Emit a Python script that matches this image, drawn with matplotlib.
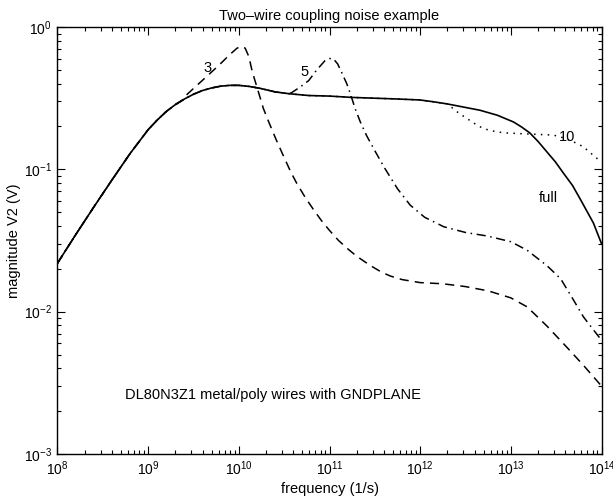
import numpy as np
import matplotlib
matplotlib.use("Agg")
import matplotlib.pyplot as plt

matplotlib.rcParams['font.family'] = ['Liberation Sans', 'DejaVu Sans']

# full model (solid), log10 of frequency and magnitude in V
full_logf = [8.0, 8.2, 8.4, 8.6, 8.8, 9.0, 9.1, 9.2, 9.3, 9.4, 9.5, 9.6,
             9.7, 9.8, 9.9, 10.0, 10.12, 10.24, 10.4, 10.55, 10.77, 11.0,
             11.25, 11.5, 11.75, 12.0, 12.15, 12.3, 12.45, 12.66, 12.85, 13.03,
             13.12, 13.21, 13.3, 13.4, 13.49, 13.58, 13.68, 13.77, 13.91, 14.0]
full_v = [0.0219, 0.0347, 0.0543, 0.0841, 0.129, 0.19, 0.222, 0.255, 0.285,
          0.312, 0.337, 0.358, 0.373, 0.384, 0.389, 0.389, 0.382, 0.37, 0.35,
          0.34, 0.33, 0.327, 0.32, 0.316, 0.312, 0.307, 0.298, 0.288, 0.276,
          0.26, 0.24, 0.215, 0.198, 0.18, 0.157, 0.132, 0.113, 0.094, 0.077,
          0.061, 0.042, 0.030]

# 3 sections (dashed), branches off the full curve
s3_logf = [9.42, 9.52, 9.63, 9.74, 9.82, 9.9, 9.98, 10.03, 10.07, 10.11,
           10.15, 10.21, 10.27, 10.33, 10.4, 10.48, 10.57, 10.64, 10.73,
           10.82, 10.91, 11.0, 11.1, 11.19, 11.3, 11.45, 11.57, 11.67, 11.8,
           12.0, 12.25, 12.5, 12.75, 13.0, 13.18, 13.4, 13.62, 13.8, 14.0]
s3_v = [0.332, 0.38, 0.44, 0.51, 0.57, 0.64, 0.71, 0.73, 0.71, 0.62, 0.48,
        0.36, 0.268, 0.215, 0.168, 0.129, 0.0966, 0.0794, 0.0638, 0.0525,
        0.0437, 0.0372, 0.0316, 0.028, 0.0245, 0.0211, 0.019, 0.0178, 0.0168,
        0.016, 0.0157, 0.015, 0.014, 0.0125, 0.0108, 0.0079, 0.0056, 0.0042,
        0.0030]

# 5 sections (dash-dot)
s5_logf = [10.58, 10.68, 10.77, 10.86, 10.95, 11.0, 11.04, 11.09, 11.14,
           11.19, 11.23, 11.28, 11.34, 11.41, 11.5, 11.6, 11.75, 11.89, 12.05,
           12.26, 12.5, 12.74, 13.0, 13.18, 13.4, 13.55, 13.7, 13.8, 13.9,
           14.0]
s5_v = [0.345, 0.38, 0.42, 0.50, 0.58, 0.60, 0.60, 0.55, 0.47, 0.40, 0.34,
        0.27, 0.215, 0.172, 0.135, 0.104, 0.073, 0.056, 0.046, 0.0395, 0.036,
        0.034, 0.031, 0.027, 0.021, 0.017, 0.0118, 0.0092, 0.0076, 0.0063]

# 10 sections (dotted)
s10_logf = [12.42, 12.55, 12.65, 12.74, 12.85, 12.96, 13.2, 13.47, 13.6,
            13.7, 13.8, 13.9, 14.0]
s10_v = [0.25, 0.22, 0.20, 0.19, 0.183, 0.18, 0.177, 0.174, 0.165, 0.155,
         0.144, 0.127, 0.112]


def branch(logf, v):
    fl = np.array(full_logf)
    keep = fl < logf[0]
    f = np.r_[fl[keep], logf]
    return 10.0 ** f, np.r_[np.array(full_v)[keep], v]


fig = plt.figure(figsize=(6.13, 4.99), dpi=100)
ax = fig.add_axes([0.0938, 0.0902, 0.8875, 0.8557])

ax.loglog(10.0 ** np.array(full_logf), full_v, color="black", lw=1.2)
f3, v3 = branch(s3_logf, s3_v)
ax.loglog(f3, v3, color="black", lw=1.1, dashes=(6, 4))
f5, v5 = branch(s5_logf, s5_v)
ax.loglog(f5, v5, color="black", lw=1.1, dashes=(6, 3, 1, 3))
f10, v10 = branch(s10_logf, s10_v)
ax.loglog(f10, v10, color="black", lw=1.1, dashes=(1, 3.5))

ax.set_xlim(1e8, 1e14)
ax.set_ylim(1e-3, 1e0)

fs = 10.5
ax.text(10 ** 9.65, 0.515, "3", fontsize=fs, ha="center", va="center")
ax.text(10 ** 10.72, 0.48, "5", fontsize=fs, ha="center", va="center")
ax.text(10 ** 13.62, 0.169, "10", fontsize=fs, ha="center", va="center")
ax.text(10 ** 13.41, 0.063, "full", fontsize=fs, ha="center", va="center")
ax.text(10 ** 8.745, 0.0026, "DL80N3Z1 metal/poly wires with GNDPLANE",
        fontsize=fs, ha="left", va="center")

ax.set_title("Two\u2013wire coupling noise example", fontsize=fs, pad=5)
ax.set_xlabel("frequency (1/s)", fontsize=fs, labelpad=3)
ax.set_ylabel("magnitude V2 (V)", fontsize=fs, labelpad=2)

ax.tick_params(which="both", direction="in", top=True, right=True,
               labelsize=10, width=0.8)
ax.tick_params(which="major", length=6, pad=4)
ax.tick_params(which="minor", length=3)
for s in ax.spines.values():
    s.set_linewidth(1.0)

plt.savefig("out.png", dpi=100)
